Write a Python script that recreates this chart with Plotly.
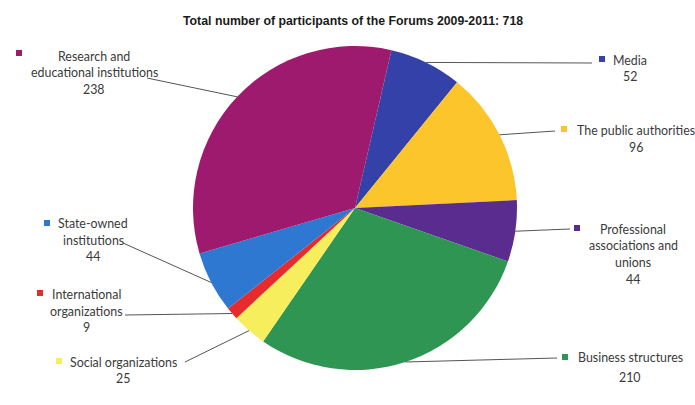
import math
import plotly.graph_objects as go

# ---- data ----
categories = ["Media", "The public authorities", "Professional associations and unions",
              "Business structures", "Social organizations", "International organizations",
              "State-owned institutions", "Research and educational institutions"]
values = [52, 96, 44, 210, 25, 9, 44, 238]
label_lines = [["Media"], ["The public authorities"], ["Professional", "associations and", "unions"],
               ["Business structures"], ["Social organizations"], ["International", "organizations"],
               ["State-owned", "institutions"], ["Research and", "educational institutions"]]
colors = ["#3341A8", "#FBC52B", "#5B2C90", "#2E9552", "#F7EE5E", "#E62A2E", "#2F78D2", "#9E1A6E"]
title = "Total number of participants of the Forums 2009-2011: 718"

# ---- layout (pixels) ----
W, H = 695, 405
CX, CY, R = 355, 208, 162
ROT = 13

# per label: text center x, y of each line (incl. value), marker pos, leader end point
label_layout = [
    dict(cx=630, ys=[60, 77], mk=(602, 59), le=(592, 63)),
    dict(cx=636, ys=[130, 148], mk=(564, 129), le=(555, 131)),
    dict(cx=633, ys=[229, 245, 262, 279], mk=(577, 228), le=(570, 229)),
    dict(cx=630, ys=[357, 377], mk=(565, 357), le=(557, 358)),
    dict(cx=123, ys=[362, 378], mk=(59, 361), le=(185, 362)),
    dict(cx=87, ys=[294, 311, 327], mk=(40, 293), le=(125, 315)),
    dict(cx=93, ys=[223, 240, 256], mk=(47, 223), le=(123, 243)),
    dict(cx=94, ys=[56, 72, 89], mk=(19, 53), le=(147, 78)),
]

def px(x):
    return x / W

def py(y):
    return 1 - y / H

fig = go.Figure(go.Pie(
    labels=categories, values=values, sort=False, direction="clockwise", rotation=ROT,
    marker=dict(colors=colors, line=dict(width=0)), textinfo="none", showlegend=False,
    domain=dict(x=[px(CX - R), px(CX + R)], y=[py(CY + R), py(CY - R)]),
    hoverinfo="label+value",
))

annotations = []
shapes = []
total = sum(values)
cum = 0
font = dict(family="Lato", size=12.4, color="#3a3a3a")
for i, v in enumerate(values):
    mid = ROT + (cum + v / 2) / total * 360
    cum += v
    a = math.radians(mid)
    ex, ey = CX + R * math.sin(a), CY - R * math.cos(a)
    L = label_layout[i]
    shapes.append(dict(type="line", xref="paper", yref="paper",
                       x0=px(ex), y0=py(ey), x1=px(L["le"][0]), y1=py(L["le"][1]),
                       line=dict(color="#555555", width=1)))
    mx, my = L["mk"]
    shapes.append(dict(type="rect", xref="paper", yref="paper",
                       x0=px(mx - 3), x1=px(mx + 3), y0=py(my + 3), y1=py(my - 3),
                       fillcolor=colors[i], line=dict(width=0)))
    texts = label_lines[i] + [str(v)]
    for t, y in zip(texts, L["ys"]):
        annotations.append(dict(text=t, x=px(L["cx"]), y=py(y), xref="paper", yref="paper",
                                xanchor="center", yanchor="middle", showarrow=False, font=font))

annotations.append(dict(text="<b>" + title + "</b>", x=px(353), y=py(21), xref="paper", yref="paper",
                        xanchor="center", yanchor="middle", showarrow=False,
                        font=dict(family="Liberation Sans, Arial, sans-serif", size=12.3, color="#1a1a1a")))

fig.update_layout(width=W, height=H, margin=dict(l=0, r=0, t=0, b=0),
                  paper_bgcolor="white", plot_bgcolor="white",
                  annotations=annotations, shapes=shapes)
fig.write_html("out.html", config={"displayModeBar": False},
               post_script="document.body.style.margin='0';")
